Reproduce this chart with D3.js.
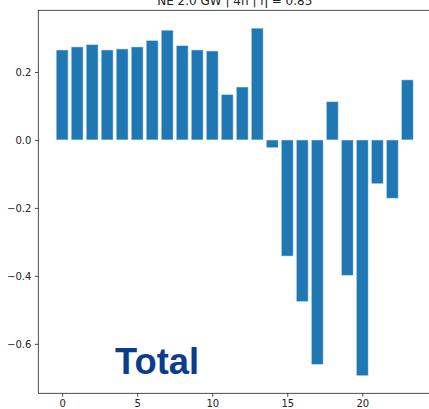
<!DOCTYPE html>
<html>
<head>
<meta charset="utf-8">
<script src="https://cdn.jsdelivr.net/npm/d3@7"></script>
<style>
  html, body { margin: 0; padding: 0; background: #fff; }
  svg { display: block; }
</style>
</head>
<body>
<svg id="chart" width="429" height="409"></svg>
<script>
// Hourly net storage dispatch (hours 0–23)
const hours = d3.range(24);
const values = [
  0.265, 0.274, 0.281, 0.265, 0.268, 0.274, 0.293, 0.323, 0.278, 0.265,
  0.262, 0.134, 0.156, 0.329, -0.023, -0.342, -0.476, -0.661, 0.113, -0.399,
  -0.694, -0.129, -0.172, 0.177
];
const xTicks = [0, 5, 10, 15, 20];
const yTicks = [-0.6, -0.4, -0.2, 0.0, 0.2];
const title = "NE 2.0 GW | 4h | η = 0.85";
const label = "Total";

(function draw() {
  const svg = d3.select("#chart");
  const m = { left: 38.3, right: 431.2, top: 10.3, bottom: 393.3 };

  const x = d3.scaleLinear().domain([-1.59, 24.59]).range([m.left, m.right]);
  const y = d3.scaleLinear().domain([-0.7456, 0.3815]).range([m.bottom, m.top]);
  const barW = x(0.8) - x(0);

  // bars
  svg.append("g")
    .selectAll("rect")
    .data(hours)
    .join("rect")
    .attr("x", d => x(d - 0.4))
    .attr("width", barW)
    .attr("y", d => y(Math.max(0, values[d])))
    .attr("height", d => Math.abs(y(values[d]) - y(0)))
    .attr("fill", "#1f77b4")
    .attr("stroke", "#ffffff")
    .attr("stroke-opacity", 0.55)
    .attr("stroke-width", 1);

  // axes
  const fmt = d => d3.format(".1f")(d).replace("-", "\u2212");
  const gx = svg.append("g")
    .attr("transform", `translate(0,${m.bottom})`)
    .call(d3.axisBottom(x).tickValues(xTicks).tickFormat(d3.format("d")).tickSize(3.5).tickPadding(3.5));
  const gy = svg.append("g")
    .attr("transform", `translate(${m.left},0)`)
    .call(d3.axisLeft(y).tickValues(yTicks).tickFormat(fmt).tickSize(3.5).tickPadding(3.5));

  [gx, gy].forEach(g => {
    g.select(".domain").remove();
    g.selectAll("line").attr("stroke", "#222").attr("stroke-width", 0.8);
    g.selectAll("text")
      .attr("fill", "#222")
      .style("font-family", "'DejaVu Sans', sans-serif")
      .style("font-size", "10px");
  });

  // spines
  svg.append("rect")
    .attr("x", m.left).attr("y", m.top)
    .attr("width", m.right - m.left).attr("height", m.bottom - m.top)
    .attr("fill", "none")
    .attr("stroke", "#222")
    .attr("stroke-width", 0.8);

  // title
  svg.append("text")
    .attr("x", (m.left + m.right) / 2)
    .attr("y", 4.5)
    .attr("text-anchor", "middle")
    .style("font-family", "'DejaVu Sans', sans-serif")
    .style("font-size", "12px")
    .attr("fill", "#222")
    .text(title);

  // panel label
  svg.append("text")
    .attr("x", 115)
    .attr("y", 373.5)
    .style("font-family", "'Liberation Sans', Arial, sans-serif")
    .style("font-weight", "bold")
    .style("font-size", "37px")
    .attr("textLength", 84)
    .attr("lengthAdjust", "spacingAndGlyphs")
    .attr("fill", "#0b3d8c")
    .text(label);
})();
</script>
</body>
</html>
